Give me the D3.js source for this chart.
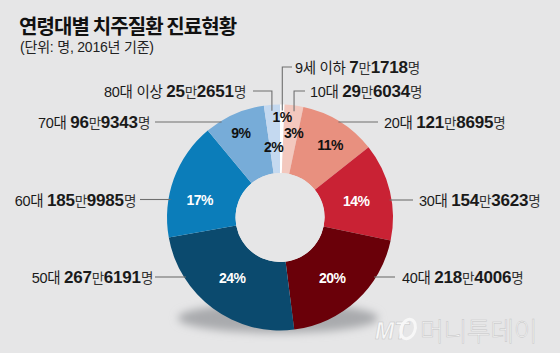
<!DOCTYPE html>
<html>
<head>
<meta charset="utf-8">
<script src="https://cdn.jsdelivr.net/npm/d3@7"></script>
<style>
  body { margin: 0; background: #e6e6e7; }
  svg { display: block; font-family: "Liberation Sans", "Noto Sans CJK KR", sans-serif; }
</style>
</head>
<body>
<svg id="chart" width="560" height="353"></svg>
<script>
// 연령대별 치주질환 진료현황 (단위: 명, 2016년)
const groups = ["9세 이하", "10대", "20대", "30대", "40대", "50대", "60대", "70대", "80대 이상"];
const patients = [71718, 296034, 1218695, 1543623, 2184006, 2676191, 1859985, 969343, 252651];
const colors = ["#ffffff", "#f3c8be", "#e8907f", "#c92234", "#6a0009", "#0b4a6e", "#0b7dba", "#77acd8", "#c4d9f0"];
const pctColors = ["#111", "#111", "#111", "#fff", "#fff", "#fff", "#fff", "#111", "#111"];

// label layout (line y, text anchor x, outer end of leader)
const side = ["r", "r", "r", "r", "r", "l", "l", "l", "l"];
const elbow = [true, true, false, false, false, false, false, false, true];
const lineY = [67, 91, 122, 200, 277, 277, 199.5, 122, 91];
const lineOut = [292, 305, 378, 413, 395, 155, 140, 155, 253];
const textX = [295, 310, 384, 419, 402, 153, 136, 150, 246];
const pctR = [101, 86, 88, 78, 80, 77, 82, 93, 71];
const pctNudge = [0, 2, 3, 1, 2, 2, -8, -1, -1];

const svg = d3.select("#chart");
const cx = 280, cy = 217.5, R = 113, r0 = 44.5;

svg.append("text")
    .attr("x", 19).attr("y", 34)
    .attr("font-family", "'Noto Sans CJK KR', sans-serif")
    .attr("font-size", 20).attr("font-weight", 700)
    .attr("letter-spacing", -0.9)
    .attr("fill", "#111")
    .text("연령대별 치주질환 진료현황");

svg.append("text")
    .attr("x", 20).attr("y", 52)
    .attr("font-size", 14)
    .attr("letter-spacing", -0.2)
    .attr("fill", "#222")
    .text("(단위: 명, 2016년 기준)");

// soft shadow under the donut
const defs = svg.append("defs");
defs.append("filter").attr("id", "blur")
    .attr("x", "-50%").attr("y", "-100%").attr("width", "200%").attr("height", "300%")
    .append("feGaussianBlur").attr("stdDeviation", 4);
svg.append("ellipse")
    .attr("cx", cx - 2).attr("cy", 318).attr("rx", 100).attr("ry", 15)
    .attr("fill", "#a9aaad")
    .attr("filter", "url(#blur)");

const pie = d3.pie().sort(null).value(d => d)(patients);
const total = d3.sum(patients);
const arc = d3.arc().innerRadius(r0).outerRadius(R);

const g = svg.append("g").attr("transform", `translate(${cx},${cy})`);

g.selectAll("path.slice")
    .data(pie)
    .join("path")
    .attr("class", "slice")
    .attr("d", arc)
    .attr("fill", (d, i) => colors[i]);

g.append("circle").attr("r", r0).attr("fill", "#e6e6e7");

// percentage labels
g.selectAll("text.pct")
    .data(pie)
    .join("text")
    .attr("class", "pct")
    .attr("transform", (d, i) => {
        const a = (d.startAngle + d.endAngle) / 2 + pctNudge[i] * Math.PI / 180;
        return `translate(${pctR[i] * Math.sin(a)},${-pctR[i] * Math.cos(a)})`;
    })
    .attr("text-anchor", "middle")
    .attr("dy", "0.36em")
    .attr("font-size", 14).attr("font-weight", 700)
    .attr("letter-spacing", -0.5)
    .attr("fill", (d, i) => pctColors[i])
    .text(d => Math.round(d.value / total * 100) + "%");

// leader lines
const lines = svg.append("g")
    .attr("fill", "none").attr("stroke", "#6f6f6f").attr("stroke-width", 1.1);

pie.forEach((d, i) => {
    const mid = (d.startAngle + d.endAngle) / 2;
    const y = lineY[i];
    let pts;
    if (elbow[i]) {
        const x = cx + R * Math.sin(mid);
        const yIn = cy - (R - 6) * Math.cos(mid);
        pts = [[lineOut[i], y], [x, y], [x, yIn]];
    } else {
        const dx = Math.sqrt(R * R - (y - cy) * (y - cy)) - 2;
        const xIn = side[i] === "r" ? cx + dx : cx - dx;
        pts = [[lineOut[i], y], [xIn, y]];
    }
    lines.append("path").attr("d", d3.line()(pts));
});

// outside labels: "40대 218만4006명"
const fmt = v => [String(Math.floor(v / 10000)), String(v % 10000).padStart(4, "0")];

pie.forEach((d, i) => {
    const [man, rest] = fmt(d.value);
    const t = svg.append("text")
        .attr("x", textX[i])
        .attr("y", lineY[i] + 6)
        .attr("text-anchor", side[i] === "r" ? "start" : "end")
        .attr("fill", "#1a1a1a")
        .attr("letter-spacing", -0.3);
    t.append("tspan").attr("font-size", 14.5).text(groups[i] + " ");
    t.append("tspan").attr("font-size", 17).attr("font-weight", 700).attr("letter-spacing", -0.2).text(man);
    t.append("tspan").attr("font-size", 13.5).attr("fill", "#333").text("만");
    t.append("tspan").attr("font-size", 17).attr("font-weight", 700).attr("letter-spacing", -0.2).text(rest);
    t.append("tspan").attr("font-size", 13.5).attr("fill", "#333").text("명");
});

// watermark
const wm = svg.append("g").attr("fill", "#f7f7f7").attr("stroke", "#c4c4c4").attr("stroke-width", 0.5);
wm.append("text")
    .attr("x", 375).attr("y", 339)
    .attr("font-size", 23).attr("font-weight", 700).attr("font-style", "italic")
    .text("MT");
wm.append("ellipse")
    .attr("cx", 408).attr("cy", 329).attr("rx", 7).attr("ry", 10)
    .attr("transform", "rotate(20,408,329)")
    .attr("fill", "none").attr("stroke", "#f7f7f7").attr("stroke-width", 3);
wm.append("text")
    .attr("x", 420).attr("y", 341)
    .attr("font-family", "'Noto Sans CJK KR', sans-serif")
    .attr("font-size", 26).attr("font-weight", 300)
    .attr("letter-spacing", -0.5)
    .text("머니투데이");
</script>
</body>
</html>
